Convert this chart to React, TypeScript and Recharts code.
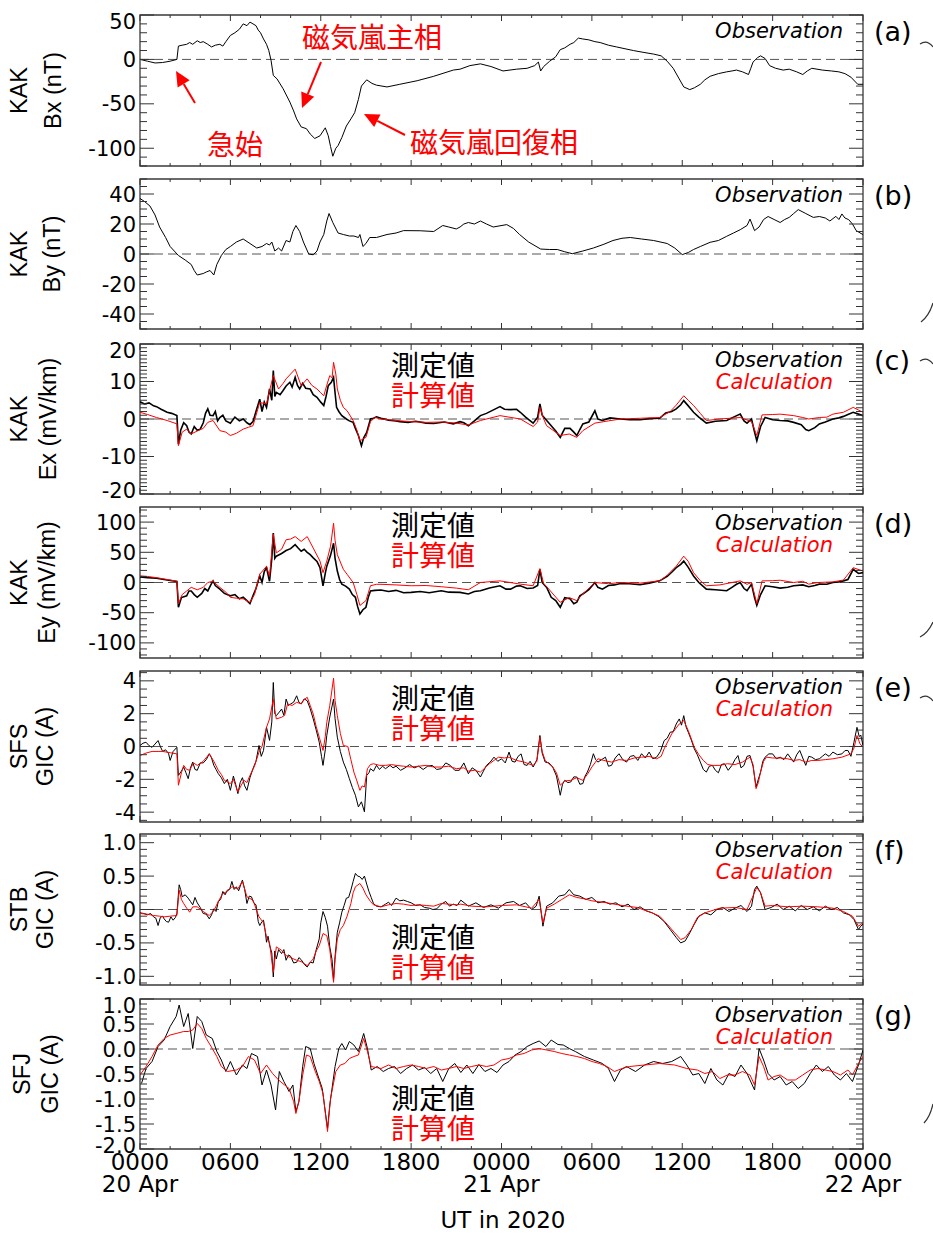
import React from 'react';
import { LineChart, Line, XAxis, YAxis, ReferenceLine, ReferenceArea } from 'recharts';

const W = 933;
const H = 1239;
const X0 = 140;
const X1 = 863;
const NUM_FONT = '"DejaVu Sans", sans-serif';
const TITLE_FONT = '"Liberation Sans", Arial, sans-serif';
const CJK_FONT = '"Noto Sans CJK JP", sans-serif';
const RED = '#ff0000';

// x axis (hours from 0000 UT 20 Apr)
const hourTicks = [0, 2, 4, 6, 8, 10, 12, 14, 16, 18, 20, 22, 24, 26, 28, 30, 32, 34, 36, 38, 40, 42, 44, 46, 48];
const majorHours = [0, 6, 12, 18, 24, 30, 36, 42, 48];
const hourLabels = ['0000', '0600', '1200', '1800', '0000', '0600', '1200', '1800', '0000'];
const dayLabels = ['20 Apr', '', '', '', '21 Apr', '', '', '', '22 Apr'];

// (a) KAK Bx
const bxObs = [[0,0],[0.5,-2],[1,-4],[1.5,-3.5],[2,-2],[2.45,0],[2.55,15],[2.8,16],[3.1,17],[3.3,19],[3.5,17],[3.8,21],[4,19],[4.2,20],[4.5,17],[4.75,14],[5,16],[5.3,17],[5.5,15],[5.7,20],[6,27],[6.3,30],[6.6,34],[6.85,40],[7.1,38],[7.3,42],[7.5,40],[7.7,38],[7.85,33],[8,30],[8.2,23],[8.4,17],[8.55,10],[8.7,-1],[8.85,-18],[9.1,-22],[9.5,-33],[9.95,-48],[10.2,-58],[10.4,-67],[10.7,-76],[11.05,-78],[11.3,-84],[11.6,-89],[11.95,-86],[12.3,-77],[12.5,-86],[12.65,-98],[12.8,-109],[13,-100],[13.15,-97],[13.4,-88],[13.7,-75],[14,-67],[14.25,-60],[14.5,-45],[14.7,-30],[15.05,-23],[15.4,-27],[15.7,-29],[16.4,-31],[17.25,-28],[18.4,-24],[19.5,-19],[20.8,-12],[21.25,-11],[21.9,-7],[22.6,-5],[23.3,-8],[24.1,-13],[25,-11],[25.7,-10],[26.2,-7],[26.45,-3],[26.6,-13],[26.8,-8],[27.2,-2],[27.6,3],[27.9,11],[28.2,13],[28.55,17],[28.8,19],[29.1,24],[29.4,23],[29.8,22],[30.2,20],[30.55,19],[31.1,16],[31.65,14],[32.2,12],[32.75,10],[33.4,8],[34.1,6],[34.6,4],[35,-2],[35.4,-10],[35.8,-22],[36.1,-31],[36.5,-34],[36.8,-32],[37.2,-28],[37.5,-23],[37.85,-19],[38.4,-16],[38.95,-14],[39.3,-13],[39.6,-12],[40,-14],[40.4,-17],[40.55,-10],[40.7,-3],[41,2],[41.2,4],[41.5,1],[41.8,-7],[42.2,-10],[42.7,-12],[43.1,-11],[43.6,-14],[44,-17],[44.3,-13],[44.6,-10],[45.3,-12],[45.9,-13],[46.4,-14],[46.8,-16],[47.2,-20],[47.65,-28],[48,-28]];

// (b) KAK By
const byObs = [[0,37],[0.3,35],[0.66,32],[1,26],[1.3,18],[1.7,11],[2,5],[2.55,-1],[3,-4],[3.4,-7],[3.6,-11],[3.8,-14],[4.2,-13],[4.4,-12],[4.65,-11],[4.9,-14],[5.1,-7],[5.4,-1],[5.7,3],[6,5],[6.4,8],[6.85,10],[7.3,7],[7.75,4],[8.1,5],[8.4,7],[8.6,6],[8.75,8],[8.95,2],[9.2,4],[9.4,2],[9.7,9],[9.95,8],[10.15,15],[10.35,19],[10.6,15],[10.85,8],[11.2,0],[11.5,-0.5],[11.75,2],[11.95,8],[12.2,13],[12.4,22],[12.55,27],[12.8,21],[13.15,14],[13.5,13],[13.9,12],[14.2,12],[14.5,11],[14.6,13],[14.8,5],[15,7],[15.25,11],[15.7,11],[16.4,13],[17,14],[17.5,15.6],[18.6,15.5],[19.5,15],[20.1,19],[20.5,18],[21,16.7],[21.25,18],[21.5,20],[21.8,21],[22.2,20],[22.6,22],[23,20],[23.45,18],[24.35,19.6],[24.8,17],[25.2,13],[25.8,8],[26.6,3.3],[27.2,3],[27.7,3],[28.2,1.5],[28.7,0.2],[29.4,2],[30.1,4],[30.8,6.5],[31.4,9],[32,10.5],[32.55,11],[33.3,10],[34.1,9],[35,7],[35.5,4],[36,-0.4],[36.4,1],[36.75,3],[37.2,5],[37.85,7.8],[38.4,9],[38.95,11.8],[39.4,14],[39.85,16.2],[40.3,19],[40.5,23.3],[40.8,15.6],[41.1,18],[41.4,23],[41.7,25],[42.1,23],[42.5,21],[42.8,23],[43.1,24.4],[43.4,27],[43.7,29.6],[44.2,27],[44.7,24.4],[45.1,25],[45.5,24],[45.8,22],[46.2,25.1],[46.4,23],[46.6,26.7],[46.8,24],[47.05,22.9],[47.3,20],[47.55,15.6],[48,12.9]];

// (c) KAK Ex
const exObs = [[0,4.6],[0.3,4],[0.6,4.3],[0.9,3.5],[1.1,3.3],[1.4,2.6],[1.8,1.8],[2.1,1.5],[2.45,0.9],[2.55,-6.7],[2.7,-3],[2.9,-1],[3.1,-1.8],[3.25,-3.5],[3.4,-4],[3.6,-2],[3.8,-3],[4,-2.7],[4.2,-1],[4.35,1.5],[4.5,2.7],[4.65,1],[4.85,0.9],[5,2],[5.15,-0.5],[5.3,0.4],[5.5,1],[5.7,-0.5],[6,-1.1],[6.3,0.5],[6.6,-0.5],[6.85,0],[7.1,-1],[7.3,-1.5],[7.5,-0.7],[7.7,2],[7.95,5.3],[8.1,2],[8.25,4.5],[8.4,3.1],[8.6,8],[8.75,5],[8.85,12.9],[8.95,6],[9.05,7.1],[9.3,6.5],[9.5,7.6],[9.7,8.8],[9.95,9.8],[10.1,8.5],[10.3,11.1],[10.45,9],[10.6,8],[10.8,9.5],[11,8.2],[11.3,8],[11.5,6.5],[11.75,5.8],[12,4.5],[12.2,3.6],[12.35,6],[12.5,8.9],[12.7,9.8],[12.85,11.1],[12.95,7],[13.05,3.1],[13.2,2],[13.4,0.9],[13.7,0],[13.9,-0.5],[14.15,-0.9],[14.3,-2.5],[14.5,-4.4],[14.7,-7.1],[14.85,-5],[15.05,-3.6],[15.3,0],[15.5,0.2],[15.7,0.6],[16,0.2],[16.5,-0.3],[17,-0.5],[17.25,-0.7],[17.8,-0.9],[18.3,-0.6],[19,-1.1],[19.5,-1.2],[20.2,-0.8],[20.8,-1.3],[21.25,-0.7],[21.5,-1],[21.8,-1.8],[22.2,-0.5],[22.6,0.9],[23,1.5],[23.4,2.3],[23.9,3.3],[24.2,2.6],[24.6,2.5],[25,2.6],[25.25,1.8],[25.6,0.5],[26.1,-1.1],[26.4,0.5],[26.55,4],[26.7,1],[27,-0.4],[27.3,-1.8],[27.6,-3.2],[27.9,-4.9],[28.2,-2.5],[28.55,-2.5],[28.8,-3.5],[29,-4.4],[29.2,-2.8],[29.4,-1.3],[29.8,-0.8],[30.2,2.2],[30.4,0],[30.7,-0.4],[31.2,0.3],[31.9,0],[32.5,-0.2],[33.2,-0.2],[33.8,0.1],[34.5,0.2],[34.9,1.6],[35.3,2],[35.6,2.7],[35.9,3.8],[36.1,4.9],[36.4,3.5],[36.75,1.8],[37.1,0.5],[37.6,-1.1],[38.2,-0.6],[38.95,-0.4],[39.4,0.5],[39.85,1.3],[40.1,-0.5],[40.3,-1.1],[40.6,0],[40.8,-3.5],[40.95,-5.8],[41.2,-2],[41.5,0.4],[42,-0.2],[42.5,-0.4],[43,-0.5],[43.4,-0.9],[43.9,-1.5],[44.2,-2.8],[44.4,-3.1],[44.8,-2.3],[45.1,-1.3],[45.5,-0.8],[46,0],[46.4,0.3],[46.7,0.7],[47,1.2],[47.35,1.8],[47.7,1.3],[48,0.9]];
const exCalc = [[0,1.8],[0.5,1.2],[1.1,0.4],[1.8,-0.4],[2.45,-1.3],[2.55,-7.1],[2.8,-3.5],[3.1,-2.7],[3.4,-4],[3.8,-3.2],[4.2,-2.5],[4.5,-0.9],[4.85,-0.4],[5.3,-3.1],[5.7,-3.5],[6,-4.4],[6.4,-3.8],[6.85,-2.7],[7.2,-2.2],[7.5,-1.8],[7.95,4.4],[8.4,4],[8.6,7.5],[8.85,11.6],[9.2,8],[9.5,9.5],[9.7,10.7],[10,12],[10.3,13.3],[10.7,8.9],[11.1,10.7],[11.4,9],[11.75,8],[12,7],[12.2,6.2],[12.4,9],[12.6,11.6],[12.75,11],[12.85,15.1],[13,12],[13.1,8],[13.3,5],[13.5,3.1],[13.75,2.2],[14.15,-0.4],[14.4,-3],[14.6,-5.8],[15,-4.9],[15.3,-0.7],[15.6,0.4],[16,0],[17,-0.4],[18,-0.7],[19,-0.9],[20,-0.8],[21,-1.1],[21.8,-1.6],[22.6,-0.4],[23.9,0.9],[25.25,0],[26.1,-2],[26.4,-0.8],[26.55,3.1],[26.8,0],[27,-1.8],[27.9,-4.4],[28.5,-4],[29,-4.9],[29.4,-3.1],[30.2,-1.1],[31.1,-0.5],[31.9,0],[33.2,0.2],[34.5,0.4],[35.2,2],[35.6,3.7],[36.1,6.2],[36.4,5],[36.75,3.6],[37.2,1.5],[37.6,-0.4],[38.5,0],[39.85,0.4],[40.6,-0.7],[40.95,-4.4],[41.3,1.1],[42,1.2],[42.5,1.3],[43.4,0.9],[44,0.4],[44.4,0],[45.1,0.4],[45.6,0.5],[46,1.3],[46.7,1.8],[47.35,3.1],[48,1.8]];

// (d) KAK Ey
const eyObs = [[0,9.3],[0.5,8],[1.1,7],[1.8,4],[2.45,1.6],[2.55,-41],[2.75,-25],[3.1,-22],[3.25,-14],[3.4,-14],[3.6,-20],[3.8,-24.5],[4.1,-18],[4.3,-10],[4.5,-14],[4.7,-4],[4.85,2.7],[5,-5],[5.3,-11],[5.6,-18],[6,-22],[6.3,-20],[6.6,-27],[6.85,-24.5],[7.1,-30],[7.3,-35],[7.5,-22],[7.7,-10],[7.95,11],[8.1,0],[8.25,18],[8.4,24.5],[8.6,2],[8.75,40],[8.85,82],[8.95,40],[9.05,43.6],[9.4,48],[9.7,53],[10,56],[10.3,62.6],[10.5,57],[10.7,51.7],[10.9,55],[11.1,50],[11.3,46],[11.5,40.8],[11.75,35],[11.95,24.5],[12.15,-5.4],[12.3,15],[12.4,27],[12.65,45],[12.85,65],[12.95,40],[13.1,19],[13.25,5],[13.4,-2.7],[13.65,-6],[13.9,-11],[14.1,-20],[14.3,-24.5],[14.45,-40],[14.6,-52],[14.8,-45],[15,-41],[15.15,-25],[15.3,-14],[15.6,-13],[16,-12.5],[16.5,-15],[17,-13],[17.5,-17],[18,-16.3],[18.6,-15],[19.2,-17],[20,-13.6],[20.5,-16],[21.25,-16.3],[21.8,-19],[22.2,-15],[22.6,-13.6],[23.2,-9],[23.9,-5.4],[24.3,-11],[24.6,-11],[25,-6],[25.25,-5.4],[25.7,-10],[26.1,-9],[26.4,-5],[26.55,21.8],[26.7,0],[27,-8],[27.3,-24.5],[27.6,-30],[27.9,-41],[28.2,-25],[28.55,-27],[28.8,-35],[29,-32.7],[29.2,-22],[29.4,-19],[29.8,-12],[30.2,0],[30.4,-8],[30.7,-11],[31.1,-5],[31.5,-4],[31.9,-1.6],[32.5,-2],[33.2,-3.8],[33.8,-1],[34.5,2.7],[35,10],[35.3,17],[35.6,24.5],[35.9,30],[36.1,35.4],[36.4,25],[36.75,10.9],[37.1,0],[37.6,-11],[38.2,-12],[38.95,-13.6],[39.3,-8],[39.6,-3],[39.85,0],[40.1,-10],[40.3,-13.6],[40.6,-2.7],[40.8,-25],[40.95,-38],[41.2,-20],[41.5,-5.4],[42,-7],[42.5,-9.3],[43,-8],[43.4,-5.4],[44,-4],[44.4,-7],[44.8,-5],[45.1,-2.7],[45.6,-3],[46,0],[46.4,1],[46.7,2.7],[47,5],[47.35,21.8],[47.7,15],[48,16.3]];
const eyCalc = [[0,11],[0.5,10],[1.1,8],[1.8,5],[2.45,2],[2.55,-35],[2.8,-20],[3.1,-14],[3.4,-8],[3.8,-12],[4.2,-8],[4.5,0],[4.85,2],[5.3,-8],[5.7,-16],[6,-24.5],[6.4,-26],[6.85,-27],[7.3,-33],[7.6,-20],[7.95,13.6],[8.4,27],[8.6,10],[8.85,80],[9.05,49],[9.4,55],[9.7,70.8],[10,72],[10.3,76],[10.7,68],[11.1,76],[11.5,57],[11.95,35.4],[12.15,16.3],[12.4,35.4],[12.65,60],[12.85,98],[12.95,70],[13.1,46],[13.5,21.8],[13.75,13.6],[14.15,0],[14.4,-20],[14.6,-38],[15,-30],[15.3,-5.4],[15.7,-3],[16,-3],[17,-4],[18,-5.4],[19,-5],[20,-7],[21,-9.3],[21.8,-12],[22.6,0],[23.9,2.7],[25.25,-2.7],[26.1,-5.4],[26.55,23],[26.8,-2],[27,-7],[27.9,-32.7],[28.5,-25],[29,-30],[29.4,-19],[30.2,0],[31.1,-2],[31.9,0],[33.2,-1],[34.5,2.7],[35,12],[35.6,27],[36.1,43.6],[36.4,35],[36.75,16.3],[37.2,3],[37.6,-5.4],[38.5,-4],[39.85,2.7],[40.3,-3],[40.6,0],[40.95,-35],[41.3,2.7],[42,3],[42.5,3.8],[43.4,0],[44,2],[44.4,-2.7],[45,0],[46,1],[46.7,4],[47.35,24.5],[48,19]];

// (e) SFS GIC
const sfsObs = [[0,0.06],[0.2,0.2],[0.4,0.26],[0.6,0.05],[0.8,-0.05],[1,0.15],[1.2,0.36],[1.35,0],[1.5,-0.3],[1.7,-0.2],[1.9,-0.44],[2,-0.85],[2.2,-0.3],[2.45,-0.05],[2.55,-1.76],[2.75,-1.5],[2.9,-1.25],[3.05,-1.6],[3.2,-1.96],[3.35,-1.3],[3.5,-0.95],[3.65,-1.4],[3.8,-1.45],[4,-1],[4.2,-1],[4.4,-0.8],[4.6,-0.44],[4.75,-0.7],[4.9,-1.15],[5.05,-1.4],[5.2,-1.66],[5.4,-1.9],[5.6,-2.26],[5.8,-2],[6,-2.67],[6.2,-1.8],[6.35,-2.3],[6.5,-2.87],[6.65,-2.2],[6.8,-1.9],[6.95,-2.4],[7.1,-2.67],[7.3,-1.9],[7.5,-1.35],[7.7,-0.9],[7.9,0.06],[8.05,-0.6],[8.2,-0.24],[8.4,1.17],[8.6,0.37],[8.75,1.5],[8.85,3.9],[8.95,2],[9.05,1.88],[9.25,2.1],[9.4,2.28],[9.55,1.9],[9.7,2.89],[9.85,2.5],[10,2.59],[10.2,2.7],[10.4,3.09],[10.55,2.7],[10.7,2.59],[10.9,2.9],[11.1,2.79],[11.3,2.3],[11.5,1.68],[11.7,1],[11.9,0.26],[12.05,-0.6],[12.15,-1.15],[12.3,-0.2],[12.4,0.67],[12.6,1.8],[12.85,2.89],[12.95,1.7],[13.1,0.57],[13.3,-0.3],[13.5,-0.95],[13.7,-1.4],[13.9,-1.96],[14.1,-2.5],[14.3,-2.97],[14.5,-3.68],[14.7,-3.37],[14.9,-3.98],[15.05,-1.76],[15.2,-1.6],[15.3,-1.35],[15.5,-1.5],[15.7,-1.15],[15.9,-1.4],[16.1,-1.2],[16.3,-1.35],[16.6,-1.15],[16.8,-1.3],[17,-1.2],[17.3,-1.45],[17.6,-1.3],[17.9,-1.1],[18.2,-1.3],[18.5,-1.2],[18.8,-1.4],[19.1,-1.2],[19.4,-1.15],[19.7,-1.4],[20,-1.35],[20.3,-1],[20.6,-1.15],[20.9,-1.45],[21.2,-1.45],[21.5,-1],[21.8,-1.66],[22.05,-1.3],[22.3,-1.45],[22.6,-1.86],[22.8,-1.5],[23,-1.15],[23.25,-0.95],[23.5,-0.65],[23.75,-0.9],[24,-0.75],[24.25,-1],[24.5,-0.34],[24.7,-0.9],[24.9,-0.95],[25.1,-0.6],[25.3,-0.45],[25.5,-1.1],[25.7,-1.15],[25.9,-0.9],[26.1,-1.25],[26.35,-0.8],[26.55,0.67],[26.7,-0.4],[26.9,-0.95],[27.15,-1],[27.4,-1.25],[27.65,-1.8],[27.9,-2.97],[28.05,-2.3],[28.2,-2.06],[28.4,-2.2],[28.6,-2.16],[28.8,-1.85],[29,-1.86],[29.2,-2.3],[29.4,-2.26],[29.55,-1.8],[29.7,-1.56],[29.9,-1.1],[30.1,-0.44],[30.25,-0.8],[30.4,-0.95],[30.65,-0.8],[30.9,-0.65],[31.1,-1.2],[31.3,-1.15],[31.55,-0.7],[31.8,-0.44],[32.05,-0.8],[32.3,-0.95],[32.55,-0.6],[32.8,-0.55],[33.05,-0.85],[33.3,-0.44],[33.55,-0.7],[33.8,-0.34],[34.05,-0.75],[34.3,-0.65],[34.55,-0.3],[34.8,0.36],[35,0.5],[35.2,0.87],[35.4,0.9],[35.6,1.37],[35.8,1.68],[35.95,1.3],[36.1,1.88],[36.25,1.2],[36.4,0.87],[36.6,0.4],[36.8,-0.14],[37,-0.5],[37.2,-0.95],[37.4,-1.4],[37.6,-1.56],[37.8,-1.2],[38,-1.15],[38.2,-1.45],[38.4,-1.6],[38.6,-1.1],[38.8,-1.05],[39.05,-1.45],[39.3,-1.15],[39.5,-0.8],[39.7,-0.55],[39.9,-1.3],[40.1,-1.15],[40.3,-0.6],[40.5,-0.55],[40.7,-1.2],[40.9,-2.46],[41.05,-2],[41.2,-1.56],[41.35,-0.9],[41.5,-0.65],[41.75,-0.45],[42,-0.45],[42.25,-0.75],[42.5,-0.65],[42.75,-0.8],[43,-0.45],[43.2,-0.7],[43.4,-0.95],[43.6,-0.5],[43.8,-0.24],[44,-0.7],[44.2,-1.15],[44.4,-0.6],[44.6,-0.65],[44.85,-0.8],[45.1,-0.75],[45.3,-0.6],[45.5,-0.45],[45.75,-0.6],[46,-0.34],[46.3,-0.5],[46.6,-0.45],[46.8,-0.25],[47,-0.24],[47.2,-0.6],[47.4,0.26],[47.6,1.17],[47.75,0.6],[47.85,0.7],[48,0.06]];
const sfsCalc = [[0,-0.55],[0.4,-0.4],[0.8,-0.3],[1.2,-0.3],[1.5,-0.3],[2,-0.38],[2.45,-0.45],[2.55,-2.36],[2.75,-1.6],[2.9,-1.15],[3.1,-1.4],[3.3,-1.45],[3.55,-1],[3.8,-1.15],[4.2,-0.9],[4.6,-0.45],[4.9,-0.9],[5.2,-1.45],[5.4,-1.7],[5.6,-2.06],[6,-2.26],[6.2,-2],[6.5,-2.77],[6.7,-2.4],[6.9,-2.06],[7.1,-2.2],[7.3,-1.76],[7.6,-1.2],[7.9,-0.34],[8.1,0],[8.4,1.17],[8.6,1.68],[8.85,2.89],[8.95,2.2],[9.05,1.68],[9.4,1.78],[9.6,1.9],[9.8,2.59],[10.1,2.5],[10.4,2.69],[10.7,2.6],[10.9,2.85],[11.1,3],[11.3,2.5],[11.5,1.98],[11.7,1.2],[11.9,0.57],[12.15,-0.24],[12.3,0.6],[12.4,1.47],[12.6,2.5],[12.85,4.16],[12.95,2.8],[13.1,1.88],[13.3,0.8],[13.5,0.06],[13.8,0],[14,-0.8],[14.2,-1.56],[14.4,-2.1],[14.6,-2.67],[14.75,-2.4],[14.9,-2.47],[15.1,-1.35],[15.3,-1.1],[15.5,-1.05],[15.9,-1.15],[16.3,-1.15],[16.7,-1.1],[17,-1.15],[17.5,-1.2],[18,-1.25],[18.5,-1.2],[19,-1.15],[19.5,-1.25],[20,-1.25],[20.5,-1.2],[21,-1.35],[21.5,-1.3],[21.8,-1.5],[22.2,-1.45],[22.6,-1.56],[23.2,-1.05],[23.8,-0.65],[24.2,-0.7],[24.5,-0.65],[25,-0.85],[25.5,-0.95],[26.1,-1.15],[26.35,-0.9],[26.55,0.57],[26.7,-0.3],[26.9,-0.85],[27.4,-1.25],[27.65,-1.6],[27.9,-2.36],[28.2,-2.1],[28.6,-2.06],[29,-1.9],[29.4,-2.06],[29.7,-1.7],[30,-1.25],[30.4,-0.75],[30.8,-0.85],[31.3,-0.95],[31.8,-0.8],[32.3,-0.85],[32.8,-0.7],[33.3,-0.65],[33.8,-0.6],[34.3,-0.75],[34.6,-0.6],[34.8,-0.14],[35.3,0.77],[35.8,1.37],[36.1,1.58],[36.4,0.97],[36.8,-0.04],[37.1,-0.5],[37.4,-0.85],[37.7,-1.1],[38,-1.15],[38.5,-1.15],[39,-1.05],[39.5,-1.1],[40,-0.95],[40.5,-0.65],[40.7,-1.1],[40.9,-2.57],[41.05,-2.2],[41.2,-1.56],[41.4,-0.9],[41.6,-0.65],[42,-0.7],[42.5,-0.7],[43,-0.75],[43.4,-0.85],[43.8,-0.8],[44.2,-0.95],[44.6,-0.85],[45,-0.85],[45.5,-0.8],[46,-0.75],[46.6,-0.65],[47.2,-0.45],[47.4,-0.1],[47.6,0.67],[47.8,0.16],[48,-0.04]];

// (f) STB GIC
const stbObs = [[0,-0.05],[0.25,-0.06],[0.5,-0.08],[0.7,-0.06],[0.9,-0.11],[1.05,-0.13],[1.2,-0.24],[1.35,-0.12],[1.5,-0.1],[1.6,-0.14],[1.75,-0.18],[1.9,-0.19],[2.05,-0.11],[2.2,-0.16],[2.35,-0.12],[2.45,-0.06],[2.6,0.37],[2.7,0.3],[2.8,0.19],[3,0.22],[3.2,0.17],[3.35,0.12],[3.5,0.07],[3.65,0.18],[3.8,0.1],[4,0.03],[4.2,-0.06],[4.4,-0.07],[4.6,-0.14],[4.75,-0.08],[4.9,0.01],[5.05,-0.03],[5.2,0.12],[5.35,0.15],[5.5,0.27],[5.65,0.22],[5.8,0.29],[5.95,0.3],[6.1,0.42],[6.25,0.3],[6.4,0.34],[6.55,0.28],[6.7,0.38],[6.8,0.44],[6.95,0.3],[7.1,0.09],[7.25,0.2],[7.4,0.19],[7.55,0.1],[7.7,0.07],[7.85,-0.18],[7.95,-0.24],[8.1,-0.18],[8.2,-0.16],[8.3,-0.3],[8.4,-0.49],[8.5,-0.4],[8.6,-0.53],[8.75,-0.65],[8.85,-1.01],[8.95,-0.62],[9.05,-0.74],[9.2,-0.6],[9.4,-0.66],[9.55,-0.6],[9.7,-0.76],[9.85,-0.68],[10,-0.7],[10.2,-0.8],[10.4,-0.79],[10.55,-0.72],[10.7,-0.75],[10.9,-0.82],[11.1,-0.86],[11.3,-0.79],[11.5,-0.8],[11.7,-0.6],[11.9,-0.44],[12,-0.2],[12.15,-0.03],[12.3,-0.12],[12.45,-0.25],[12.6,-0.56],[12.75,-0.75],[12.85,-1.05],[12.95,-0.7],[13.1,-0.34],[13.25,-0.2],[13.4,-0.04],[13.55,0.06],[13.7,0.17],[13.85,0.18],[14,0.29],[14.15,0.42],[14.3,0.54],[14.45,0.5],[14.6,0.49],[14.75,0.45],[14.9,0.5],[15.05,0.38],[15.2,0.27],[15.35,0.18],[15.5,0.09],[15.7,0.05],[16,0.04],[16.3,0.08],[16.5,0.11],[16.7,0.06],[17,0.17],[17.25,0.13],[17.5,0.14],[17.75,0.12],[18,0.1],[18.3,0.06],[18.6,0.07],[18.9,0.03],[19.2,0.02],[19.45,0],[19.7,0.01],[20,0.08],[20.3,0.12],[20.55,0.05],[20.8,0.08],[21.05,0.06],[21.3,0.14],[21.8,0.05],[22.3,0.1],[22.8,0.03],[23.3,0.07],[23.8,0.02],[24.3,0.1],[24.8,0.12],[25.2,0.06],[25.6,0.1],[26,0],[26.3,0.05],[26.5,0.2],[26.75,-0.25],[27,0.05],[27.4,0.1],[27.8,0.2],[28.2,0.22],[28.5,0.3],[28.8,0.22],[29.2,0.2],[29.6,0.15],[30,0.18],[30.4,0.1],[30.8,0.12],[31.2,0.08],[31.6,0.1],[32,0.04],[32.4,0.08],[32.8,0],[33.2,0.04],[33.6,-0.02],[34,-0.05],[34.4,-0.1],[34.8,-0.18],[35.2,-0.3],[35.6,-0.42],[35.9,-0.5],[36.2,-0.47],[36.5,-0.35],[36.8,-0.22],[37.1,-0.1],[37.5,-0.05],[37.9,-0.08],[38.3,0],[38.7,0.03],[39.1,-0.03],[39.5,0.02],[39.9,0.06],[40.3,-0.03],[40.6,0.05],[40.8,0.3],[40.95,0.35],[41.2,0.25],[41.5,0],[41.9,0.03],[42.3,0.08],[42.7,0],[43.1,0.05],[43.5,-0.02],[43.9,0.06],[44.3,0],[44.7,0.04],[45.1,-0.02],[45.5,0.05],[45.9,0],[46.3,0.03],[46.7,-0.05],[47.1,-0.08],[47.4,-0.15],[47.7,-0.3],[47.85,-0.25],[48,-0.22]];
const stbCalc = [[0,-0.06],[0.5,-0.07],[0.9,-0.09],[1.3,-0.1],[1.6,-0.11],[2,-0.1],[2.45,-0.09],[2.6,0.29],[2.75,0.15],[2.9,0.09],[3.1,0.02],[3.3,-0.04],[3.5,0.04],[3.8,0.04],[4.2,-0.03],[4.6,-0.09],[4.9,-0.02],[5.2,0.12],[5.5,0.24],[5.8,0.27],[6.1,0.34],[6.5,0.31],[6.8,0.42],[7.1,0.19],[7.5,0.14],[7.9,-0.11],[8.2,-0.2],[8.4,-0.41],[8.6,-0.5],[8.85,-0.94],[9.05,-0.56],[9.4,-0.61],[9.7,-0.69],[10,-0.72],[10.4,-0.76],[10.7,-0.78],[11.1,-0.84],[11.5,-0.74],[11.7,-0.62],[11.9,-0.54],[12.15,-0.36],[12.4,-0.39],[12.6,-0.6],[12.85,-1.09],[12.95,-0.75],[13.1,-0.44],[13.3,-0.3],[13.5,-0.24],[13.75,-0.1],[14,0.09],[14.15,0.25],[14.3,0.34],[14.6,0.39],[14.8,0.32],[15,0.22],[15.3,0.12],[15.5,0.07],[16,0.04],[16.5,0.07],[17,0.09],[17.5,0.08],[18,0.06],[18.5,0.07],[19,0.06],[19.5,0.05],[20,0.09],[20.5,0.08],[21,0.07],[21.3,0.08],[22,0.05],[23,0.04],[24,0.06],[25,0.07],[26,0.02],[26.5,0.15],[26.75,-0.2],[27,0.02],[27.5,0.08],[28,0.15],[28.5,0.22],[29,0.18],[29.5,0.16],[30,0.13],[31,0.1],[32,0.06],[33,0.03],[34,-0.05],[34.5,-0.1],[35,-0.22],[35.5,-0.35],[35.9,-0.45],[36.2,-0.42],[36.6,-0.3],[37,-0.12],[37.5,-0.05],[38.5,0.02],[39.5,0.03],[40.3,0],[40.95,0.33],[41.2,0.25],[41.5,0.05],[42,0.06],[43,0.04],[44,0.05],[45,0.04],[46,0.02],[46.7,-0.03],[47.3,-0.1],[47.7,-0.25],[48,-0.2]];

// (g) SFJ GIC
const sfjObs = [[0.1,-0.69],[0.4,-0.39],[0.8,-0.25],[1.2,0.05],[1.6,0.18],[2,0.45],[2.4,0.65],[2.6,0.88],[2.9,0.45],[3.2,0.71],[3.5,0.01],[3.8,0.65],[4.1,0.55],[4.4,0.28],[4.8,0.21],[5.1,-0.05],[5.4,-0.22],[5.7,-0.45],[6,-0.25],[6.4,-0.52],[6.8,-0.32],[7.1,-0.39],[7.4,-0.09],[7.8,-0.15],[8.1,-0.72],[8.4,-0.42],[8.7,-0.72],[9,-1.22],[9.25,-0.45],[9.55,-0.65],[9.9,-0.85],[10.15,-0.72],[10.35,-1.25],[10.55,-1.05],[10.8,-0.35],[11,0.05],[11.3,0.01],[11.55,-0.29],[11.8,-0.52],[12.1,-0.79],[12.45,-1.59],[12.6,-1.12],[12.95,-0.35],[13.2,0.01],[13.4,0.11],[13.65,-0.02],[13.9,0.15],[14.2,0.08],[14.5,-0.05],[14.85,0.31],[15.1,0.01],[15.35,-0.42],[15.75,-0.35],[16.15,-0.45],[16.5,-0.39],[16.9,-0.35],[17.3,-0.49],[17.7,-0.39],[18.1,-0.32],[18.5,-0.42],[18.9,-0.37],[19.3,-0.49],[19.7,-0.39],[20.1,-0.65],[20.5,-0.39],[20.9,-0.29],[21.3,-0.47],[21.7,-0.32],[22.1,-0.49],[22.5,-0.31],[22.9,-0.45],[23.3,-0.39],[23.7,-0.47],[24.1,-0.32],[24.5,-0.25],[24.9,-0.12],[25.3,-0.05],[25.7,0.05],[26.1,0.11],[26.5,0.16],[26.95,0.05],[27.3,0.18],[27.75,0.09],[28.1,0.08],[28.5,0.01],[28.9,-0.05],[29.5,-0.15],[30.1,-0.22],[30.7,-0.29],[31.1,-0.39],[31.5,-0.65],[31.9,-0.42],[32.3,-0.35],[32.9,-0.45],[33.5,-0.32],[34.1,-0.25],[34.7,-0.29],[35.3,-0.25],[35.9,-0.15],[36.3,-0.32],[36.7,-0.52],[37.1,-0.49],[37.5,-0.69],[37.9,-0.39],[38.3,-0.62],[38.7,-0.72],[39.1,-0.49],[39.5,-0.55],[39.9,-0.32],[40.3,-0.49],[40.8,-0.82],[41.1,0.01],[41.4,-0.22],[41.7,-0.49],[42.1,-0.62],[42.5,-0.55],[42.9,-0.72],[43.3,-0.65],[43.7,-0.79],[44.1,-0.69],[44.5,-0.49],[44.9,-0.32],[45.3,-0.45],[45.7,-0.35],[46.1,-0.52],[46.5,-0.62],[46.9,-0.49],[47.3,-0.65],[47.7,-0.32],[48,-0.02]];
const sfjCalc = [[0,-0.52],[0.4,-0.35],[0.8,-0.15],[1.2,0.08],[1.6,0.21],[2,0.28],[2.4,0.31],[2.9,0.35],[3.2,0.35],[3.5,0.38],[3.8,0.51],[4.1,0.41],[4.4,0.21],[4.8,0.01],[5.1,-0.15],[5.4,-0.35],[5.8,-0.45],[6.4,-0.42],[6.8,-0.35],[7.2,-0.15],[7.6,-0.22],[8,-0.49],[8.4,-0.32],[8.8,-0.49],[9.2,-0.62],[9.6,-0.72],[9.9,-0.79],[10.2,-1.05],[10.35,-1.29],[10.55,-1.05],[10.8,-0.52],[11.05,-0.12],[11.3,-0.15],[11.6,-0.42],[11.9,-0.65],[12.15,-0.89],[12.45,-1.65],[12.65,-0.99],[13,-0.45],[13.3,-0.32],[13.6,-0.29],[13.9,-0.19],[14.2,-0.15],[14.5,-0.12],[14.85,0.21],[15.1,-0.05],[15.35,-0.35],[16,-0.39],[16.5,-0.32],[17,-0.39],[17.5,-0.35],[18,-0.32],[18.5,-0.35],[19,-0.39],[19.5,-0.35],[20,-0.42],[20.5,-0.39],[21,-0.35],[21.5,-0.39],[22,-0.35],[22.5,-0.32],[23,-0.35],[23.5,-0.32],[24,-0.22],[24.5,-0.19],[25,-0.12],[25.5,-0.09],[26,-0.02],[26.5,0.01],[27,-0.02],[27.5,-0.05],[28,-0.09],[28.5,-0.12],[29,-0.15],[29.5,-0.19],[30,-0.25],[30.5,-0.29],[31,-0.35],[31.5,-0.45],[32,-0.39],[32.5,-0.35],[33.5,-0.32],[34.5,-0.29],[35.5,-0.32],[36.3,-0.39],[37,-0.42],[37.5,-0.49],[38,-0.45],[38.5,-0.59],[39,-0.52],[39.5,-0.52],[40,-0.45],[40.5,-0.52],[40.8,-0.72],[41.1,-0.15],[41.4,-0.35],[41.7,-0.62],[42.1,-0.55],[42.5,-0.52],[43,-0.62],[43.5,-0.62],[44,-0.52],[44.5,-0.42],[45,-0.39],[45.5,-0.42],[46,-0.45],[46.5,-0.52],[47,-0.42],[47.3,-0.52],[47.7,-0.29],[48,-0.15]];

// y axis labelled ticks per panel
const yMajorA = [-100, -50, 0, 50];
const yMajorB = [-40, -20, 0, 20, 40];
const yMajorC = [-20, -10, 0, 10, 20];
const yMajorD = [-100, -50, 0, 50, 100];
const yMajorE = [-4, -2, 0, 2, 4];
const yMajorF = [-1.0, -0.5, 0, 0.5, 1.0];
const yMajorG = [-2.0, -1.5, -1.0, -0.5, 0, 0.5, 1.0];

type Pair = number[];
type Panel = {
  id: string; top: number; bottom: number; domain: [number, number];
  major: number[]; minor: number; digits: number;
  site: string; qty: string; sx: number; qx: number;
  obs: Pair[]; calc?: Pair[]; jpY?: number; thick?: boolean;
};

const panels: Panel[] = [
  { id: 'a', top: 15, bottom: 166, domain: [-120, 50], major: yMajorA, minor: 10, digits: 0, site: 'KAK', qty: 'Bx (nT)', sx: 18.5, qx: 53, obs: bxObs },
  { id: 'b', top: 179, bottom: 329, domain: [-50, 50], major: yMajorB, minor: 5, digits: 0, site: 'KAK', qty: 'By (nT)', sx: 18.5, qx: 52, obs: byObs },
  { id: 'c', top: 344, bottom: 494, domain: [-20, 20], major: yMajorC, minor: 1, digits: 0, site: 'KAK', qty: 'Ex (mV/km)', sx: 18.5, qx: 48, obs: exObs, calc: exCalc, jpY: 376, thick: true },
  { id: 'd', top: 507, bottom: 658, domain: [-125, 125], major: yMajorD, minor: 10, digits: 0, site: 'KAK', qty: 'Ey (mV/km)', sx: 18.5, qx: 47, obs: eyObs, calc: eyCalc, jpY: 536, thick: true },
  { id: 'e', top: 671, bottom: 822, domain: [-4.6, 4.6], major: yMajorE, minor: 0.5, digits: 0, site: 'SFS', qty: 'GIC (A)', sx: 18.5, qx: 44.5, obs: sfsObs, calc: sfsCalc, jpY: 709 },
  { id: 'f', top: 834, bottom: 985, domain: [-1.13, 1.13], major: yMajorF, minor: 0.1, digits: 1, site: 'STB', qty: 'GIC (A)', sx: 18.5, qx: 44.5, obs: stbObs, calc: stbCalc, jpY: 948 },
  { id: 'g', top: 999, bottom: 1149, domain: [-2, 1], major: yMajorG, minor: 0.1, digits: 1, site: 'SFJ', qty: 'GIC (A)', sx: 22, qx: 50, obs: sfjObs, calc: sfjCalc, jpY: 1109 },
];

const toPts = (arr: Pair[]) => arr.map(([t, v]) => ({ t, v }));

function minorTicks(domain: [number, number], step: number) {
  const out: number[] = [];
  const a = Math.ceil(domain[0] / step - 1e-9);
  const b = Math.floor(domain[1] / step + 1e-9);
  for (let i = a; i <= b; i++) out.push(Math.round(i * step * 1e6) / 1e6);
  return out;
}

function PanelChart({ p, last }: { p: Panel; last: boolean }) {
  const ticks = minorTicks(p.domain, p.minor);
  const isMajor = (v: number) => p.major.some((m) => Math.abs(m - v) < 1e-6);

  const yTick = (props: any) => {
    const { payload } = props;
    const y = payload.coordinate;
    const v = payload.value;
    const big = isMajor(v);
    const len = big ? 14 : 7;
    let ly = y;
    if (y - p.top < 4) ly = y + 6;
    if (p.bottom - y < 4) ly = y - 4;
    return (
      <g>
        <line x1={X0} x2={X0 + len} y1={y} y2={y} stroke="#333" strokeWidth={1} />
        <line x1={X1 - len} x2={X1} y1={y} y2={y} stroke="#333" strokeWidth={1} />
        {big && (
          <text x={136} y={ly + 7.5} textAnchor="end" fontFamily={NUM_FONT} fontSize={21} fill="#000">
            {v.toFixed(p.digits)}
          </text>
        )}
      </g>
    );
  };

  const xTick = (props: any) => {
    const { payload } = props;
    const x = payload.coordinate;
    const h = payload.value;
    const mi = majorHours.indexOf(h);
    const len = mi >= 0 ? 6 : 3;
    return (
      <g>
        <line x1={x} x2={x} y1={p.bottom} y2={p.bottom - len} stroke="#333" strokeWidth={1} />
        <line x1={x} x2={x} y1={p.top} y2={p.top + len} stroke="#333" strokeWidth={1} />
        {last && mi >= 0 && (
          <text x={x} y={p.bottom + 21} textAnchor="middle" fontFamily={NUM_FONT} fontSize={23} fill="#000">
            {hourLabels[mi]}
          </text>
        )}
        {last && mi >= 0 && dayLabels[mi] && (
          <text x={x} y={p.bottom + 43} textAnchor="middle" fontFamily={NUM_FONT} fontSize={23} fill="#000">
            {dayLabels[mi]}
          </text>
        )}
      </g>
    );
  };

  return (
    <div style={{ position: 'absolute', left: 0, top: 0 }}>
      <LineChart width={W} height={H} margin={{ top: p.top, bottom: H - p.bottom - 2, left: X0 - 2, right: W - X1 }}>
        <XAxis type="number" dataKey="t" domain={[0, 48]} ticks={hourTicks} interval={0} tick={xTick}
          tickLine={false} axisLine={false} height={2} allowDataOverflow />
        <YAxis type="number" domain={p.domain} ticks={ticks} interval={0} tick={yTick}
          tickLine={false} axisLine={false} width={2} allowDataOverflow />
        <ReferenceArea x1={0} x2={48} y1={p.domain[0]} y2={p.domain[1]} fill="none" fillOpacity={0}
          stroke="#3a3a3a" strokeWidth={1.3} ifOverflow="visible" />
        <ReferenceLine y={0} stroke="#555" strokeDasharray="9 5" strokeWidth={1} />
        <Line data={toPts(p.obs)} dataKey="v" type="linear" stroke="#000" strokeWidth={p.thick ? 1.6 : 1}
          dot={false} activeDot={false} isAnimationActive={false} />
        {p.calc && (
          <Line data={toPts(p.calc)} dataKey="v" type="linear" stroke={RED} strokeWidth={1}
            dot={false} activeDot={false} isAnimationActive={false} />
        )}
      </LineChart>
    </div>
  );
}

function Arrow({ x1, y1, x2, y2 }: { x1: number; y1: number; x2: number; y2: number }) {
  const dx = x2 - x1;
  const dy = y2 - y1;
  const L = Math.hypot(dx, dy);
  const ux = dx / L;
  const uy = dy / L;
  const hl = 15;
  const hw = 7;
  const bx = x2 - ux * hl;
  const by = y2 - uy * hl;
  const pts = `${x2},${y2} ${bx - uy * hw},${by + ux * hw} ${bx + uy * hw},${by - ux * hw}`;
  return (
    <g>
      <line x1={x1} y1={y1} x2={bx} y2={by} stroke={RED} strokeWidth={2} />
      <polygon points={pts} fill={RED} />
    </g>
  );
}

function Overlay() {
  return (
    <svg width={W} height={H} style={{ position: 'absolute', left: 0, top: 0, pointerEvents: 'none' }}>
      {panels.map((p) => {
        const mid = (p.top + p.bottom) / 2;
        return (
          <g key={p.id}>
            <text transform={`translate(${p.sx},${mid}) rotate(-90)`} textAnchor="middle" dominantBaseline="central"
              fontFamily={TITLE_FONT} fontSize={23.5} fill="#000">{p.site}</text>
            <text transform={`translate(${p.qx},${mid}) rotate(-90)`} textAnchor="middle" dominantBaseline="central"
              fontFamily={TITLE_FONT} fontSize={23.5} fill="#000">{p.qty}</text>
            <text x={874} y={p.top + 26} fontFamily={NUM_FONT} fontSize={27} fill="#000">({p.id})</text>
            <text x={843} y={p.top + 23} textAnchor="end" fontFamily={NUM_FONT} fontStyle="italic" fontSize={21} fill="#000">Observation</text>
            {p.calc && (
              <text x={833} y={p.top + 45} textAnchor="end" fontFamily={NUM_FONT} fontStyle="italic" fontSize={21} fill={RED}>Calculation</text>
            )}
            {p.jpY && (
              <g fontFamily={CJK_FONT} fontSize={28}>
                <text x={391} y={p.jpY} fill="#000">測定値</text>
                <text x={391} y={p.jpY + 30} fill={RED}>計算値</text>
              </g>
            )}
          </g>
        );
      })}

      <g fontFamily={CJK_FONT} fontSize={28} fill={RED}>
        <text x={302} y={48}>磁気嵐主相</text>
        <text x={207} y={155}>急始</text>
        <text x={410} y={153}>磁気嵐回復相</text>
      </g>
      <Arrow x1={195} y1={103} x2={176} y2={71} />
      <Arrow x1={321} y1={62} x2={302} y2={108} />
      <Arrow x1={405} y1={135} x2={364} y2={114} />

      <text x={503} y={1228} textAnchor="middle" fontFamily={NUM_FONT} fontSize={23} fill="#000">UT in 2020</text>

      <g fill="none" stroke="#333" strokeWidth={1.2}>
        <path d="M920 44 Q927 39 933 47" />
        <path d="M933 303 Q929 316 921 322" />
        <path d="M920 361 Q927 356 933 364" />
        <path d="M933 622 Q928 633 920 637" />
        <path d="M920 698 Q927 693 933 701" />
        <path d="M933 1104 Q930 1117 924 1123" />
      </g>
    </svg>
  );
}

export default function App() {
  return (
    <div style={{ position: 'relative', width: W, height: H, background: '#fff', overflow: 'hidden' }}>
      <style>{'body{margin:0;}'}</style>
      {panels.map((p, i) => (
        <PanelChart key={p.id} p={p} last={i === panels.length - 1} />
      ))}
      <Overlay />
    </div>
  );
}
